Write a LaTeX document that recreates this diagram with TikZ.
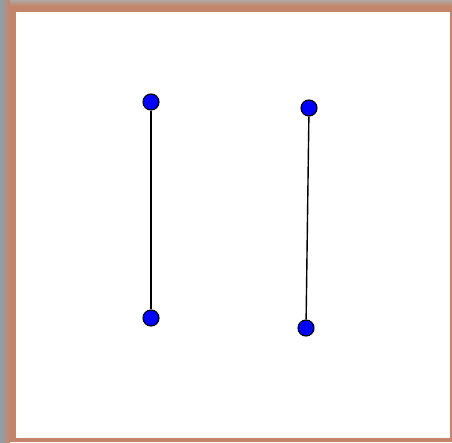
\documentclass[tikz,border=0pt]{standalone}
\begin{document}
\begin{tikzpicture}[x=1pt,y=-1pt,
  pt/.style={circle,draw=black,fill=blue,line width=1.1pt,minimum size=16pt,inner sep=0pt},
  seg/.style={draw=black,line width=1.4pt}]
\definecolor{frame}{RGB}{196,132,106}
\definecolor{edgeL}{RGB}{140,160,172}
\definecolor{edgeT}{RGB}{176,168,160}
\useasboundingbox (0,0) rectangle (452,442);
\fill[frame] (0,0) rectangle (452,442);
\shade[left color=edgeL,right color=frame] (0,0) rectangle (10,442);
\shade[top color=edgeT,bottom color=frame] (10,0) rectangle (452,6);
\fill[white] (16,12) rectangle (450,438);
\node[pt] (a1) at (151,102) {};
\node[pt] (a2) at (151,318) {};
\node[pt] (b1) at (309,108) {};
\node[pt] (b2) at (306,328) {};
\draw[seg] (a1) -- (a2);
\draw[seg] (b1) -- (b2);
\end{tikzpicture}
\end{document}
